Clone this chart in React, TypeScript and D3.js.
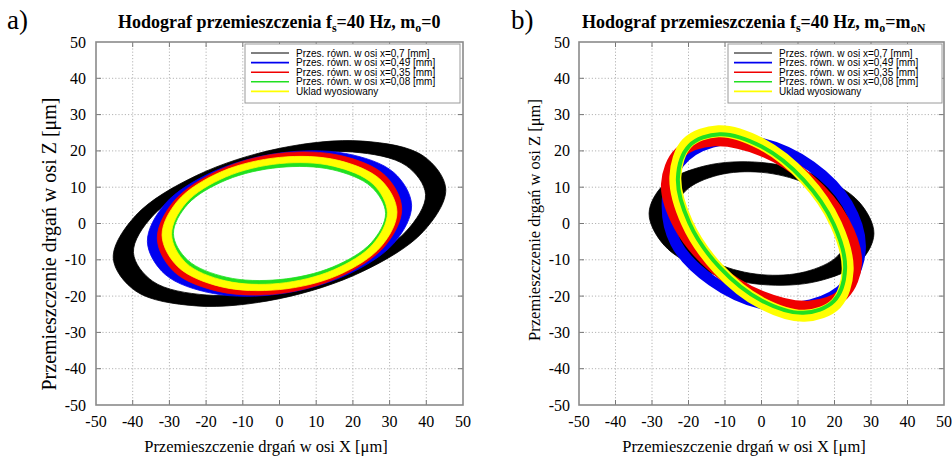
import React from "react";
import * as d3 from "d3";

type Pt = [number, number];

// ---------- data ----------
const tickValues = [-50, -40, -30, -20, -10, 0, 10, 20, 30, 40, 50];
const seriesLabels = [
  "Przes. równ. w osi x=0,7 [mm]",
  "Przes. równ. w osi x=0,49 [mm]",
  "Przes. równ. w osi x=0,35 [mm]",
  "Przes. równ. w osi x=0,08 [mm]",
  "Uklad wyosiowany",
];
const xAxisTitle = "Przemieszczenie drgań w osi X [μm]";
const yAxisTitle = "Przemieszczenie drgań w osi Z [μm]";

// panel a) loops (outer / inner boundary of each band), µm
const aBlackOuter: Pt[] = [[45.3, 9.5], [39.2, 18.6], [22.65, 22.7], [0, 20.7], [-22.65, 13.2], [-39.2, 2.2], [-45.3, -9.5], [-39.2, -18.6], [-22.65, -22.7], [0, -20.7], [22.65, -13.2], [39.2, -2.2]];
const aBlackInner: Pt[] = [[39.8, 8], [34.5, 15.95], [19.9, 19.7], [0, 18.1], [-19.9, 11.7], [-34.5, 2.15], [-39.8, -8], [-34.5, -15.95], [-19.9, -19.7], [0, -18.1], [19.9, -11.7], [34.5, -2.15]];
const aBlueOuter: Pt[] = [[36, 5], [31.2, 14], [18, 19.3], [0, 19.4], [-18, 14.3], [-31.2, 5.4], [-36, -5], [-31.2, -14], [-18, -19.3], [0, -19.4], [18, -14.3], [31.2, -5.4]];
const aBlueInner: Pt[] = [[31, 4.4], [26.85, 12.5], [15.5, 17.3], [0, 17.45], [-15.5, 12.9], [-26.85, 4.9], [-31, -4.4], [-26.85, -12.5], [-15.5, -17.3], [0, -17.45], [15.5, -12.9], [26.85, -4.9]];
const aRedOuter: Pt[] = [[33.3, 4.1], [28.8, 13.2], [16.65, 18.7], [0, 19.3], [-16.65, 14.6], [-28.8, 6.1], [-33.3, -4.1], [-28.8, -13.2], [-16.65, -18.7], [0, -19.3], [16.65, -14.6], [28.8, -6.1]];
const aRedInner: Pt[] = [[30.5, 3.6], [26.4, 11.4], [15.25, 16.2], [0, 16.6], [-15.25, 12.6], [-26.4, 5.2], [-30.5, -3.6], [-26.4, -11.4], [-15.25, -16.2], [0, -16.6], [15.25, -12.6], [26.4, -5.2]];
const aGreenOuter: Pt[] = [[29.8, 3], [25.8, 11], [14.9, 16.1], [0, 16.8], [-14.9, 13.1], [-25.8, 5.8], [-29.8, -3], [-25.8, -11], [-14.9, -16.1], [0, -16.8], [14.9, -13.1], [25.8, -5.8]];
const aGreenInner: Pt[] = [[28.9, 2.8], [25, 10.1], [14.45, 14.8], [0, 15.45], [-14.45, 12], [-25, 5.3], [-28.9, -2.8], [-25, -10.1], [-14.45, -14.8], [0, -15.45], [14.45, -12], [25, -5.3]];
const aYellowOuter: Pt[] = [[32, 3.2], [27.7, 11.9], [16, 17.4], [0, 18.2], [-16, 14.2], [-27.7, 6.3], [-32, -3.2], [-27.7, -11.9], [-16, -17.4], [0, -18.2], [16, -14.2], [27.7, -6.3]];
const aYellowInner: Pt[] = [[29.4, 3], [25.5, 10.85], [14.7, 15.8], [0, 16.5], [-14.7, 12.8], [-25.5, 5.65], [-29.4, -3], [-25.5, -10.85], [-14.7, -15.8], [0, -16.5], [14.7, -12.8], [25.5, -5.65]];

// panel b) loops
const bBlackOuter: Pt[] = [[30.8, -2.8], [26.7, 5.96], [15.4, 13.1], [0, 16.8], [-15.4, 15.9], [-26.7, 10.8], [-30.8, 2.8], [-26.7, -5.96], [-15.4, -13.1], [0, -16.8], [15.4, -15.9], [26.7, -10.8]];
const bBlackInner: Pt[] = [[24, -2.2], [20.8, 5.2], [12, 11.1], [0, 14.1], [-12, 13.3], [-20.8, 9], [-24, 2.2], [-20.8, -5.2], [-12, -11.1], [0, -14.1], [12, -13.3], [20.8, -9]];
const bBlueMid: Pt[] = [[27.1, -6.6], [23.5, 5.35], [13.55, 15.8], [0, 22.1], [-13.55, 22.4], [-22.5, 16.75], [-25.8, 6.6], [-23.5, -5.35], [-13.55, -15.8], [0, -22.1], [13.55, -22.4], [23.5, -16.75]];
const bRedMid: Pt[] = [[25.9, -10.8], [22.4, 0.75], [12.95, 12.1], [0, 20.2], [-12.95, 22.9], [-22.4, 19.45], [-25.9, 10.8], [-22.4, -0.75], [-12.95, -12.1], [0, -20.2], [12.95, -22.9], [22.4, -19.45]];
const bYellowMid: Pt[] = [[23.6, -12.9], [20.4, -0.2], [11.8, 12.5], [0, 21.9], [-11.8, 25.4], [-20.4, 22.1], [-23.6, 12.9], [-20.4, 0.2], [-11.8, -12.5], [0, -21.9], [11.8, -25.4], [20.4, -22.1]];
const bGreenMid: Pt[] = [[22.9, -12.5], [19.8, -0.2], [11.45, 12.1], [0, 21.2], [-11.45, 24.6], [-19.8, 21.4], [-22.9, 12.5], [-19.8, 0.2], [-11.45, -12.1], [0, -21.2], [11.45, -24.6], [19.8, -21.4]];

// ---------- styles ----------
const seriesColors = ["#000000", "#0000f0", "#f00000", "#20e020", "#ffff00"];
const midWidths = [0, 11, 12, 12, 4]; // px widths for single-line loops in b)

type Ring = { color: string; outer: Pt[]; inner?: Pt[]; width?: number };

const ringsA: Ring[] = [
  { color: seriesColors[0], outer: aBlackOuter, inner: aBlackInner },
  { color: seriesColors[1], outer: aBlueOuter, inner: aBlueInner },
  { color: seriesColors[2], outer: aRedOuter, inner: aRedInner },
  { color: seriesColors[3], outer: aGreenOuter, inner: aGreenInner },
  { color: seriesColors[4], outer: aYellowOuter, inner: aYellowInner },
];
const ringsB: Ring[] = [
  { color: seriesColors[0], outer: bBlackOuter, inner: bBlackInner },
  { color: seriesColors[1], outer: bBlueMid, width: midWidths[1] },
  { color: seriesColors[2], outer: bRedMid, width: midWidths[2] },
  { color: seriesColors[4], outer: bYellowMid, width: midWidths[3] },
  { color: seriesColors[3], outer: bGreenMid, width: midWidths[4] },
];

const SERIF = "'Liberation Serif', 'Times New Roman', serif";
const SANS = "'Liberation Sans', Arial, sans-serif";

type PanelProps = {
  left: number;
  right: number;
  top: number;
  bottom: number;
  rings: Ring[];
  letter: string;
  letterX: number;
  titleX: number;
  titleParts: { t: string; sub?: boolean }[];
  yLabelX: number;
  yLabelY: number;
  yLabelSize: number;
  yTickX: number;
  xTitleX: number;
  legendX: number;
  legendW: number;
};

function Panel(p: PanelProps) {
  const xs = d3.scaleLinear().domain([-50, 50]).range([p.left, p.right]);
  const ys = d3.scaleLinear().domain([-50, 50]).range([p.bottom, p.top]);
  const line = d3
    .line<Pt>()
    .x((d) => xs(d[0]))
    .y((d) => ys(d[1]))
    .curve(d3.curveCatmullRomClosed.alpha(0.5));
  const clipId = "clip" + p.letter;
  const legY = p.top + 2;
  return (
    <g>
      <defs>
        <clipPath id={clipId}>
          <rect x={p.left} y={p.top} width={p.right - p.left} height={p.bottom - p.top} />
        </clipPath>
      </defs>
      <rect x={p.left} y={p.top} width={p.right - p.left} height={p.bottom - p.top} fill="#fff" />
      {/* grid */}
      {tickValues.slice(1, -1).map((v) => (
        <g key={"g" + v}>
          <line x1={xs(v)} x2={xs(v)} y1={p.top} y2={p.bottom} stroke="#b4b4b4" strokeWidth={1} strokeDasharray="1.2,2" />
          <line x1={p.left} x2={p.right} y1={ys(v)} y2={ys(v)} stroke="#b4b4b4" strokeWidth={1} strokeDasharray="1.2,2" />
        </g>
      ))}
      {/* rings */}
      <g clipPath={`url(#${clipId})`}>
        {p.rings.map((r, i) =>
          r.inner ? (
            <path key={i} d={(line(r.outer) || "") + (line(r.inner) || "")} fill={r.color} fillRule="evenodd" stroke={r.color} strokeWidth={0.8} />
          ) : (
            <path key={i} d={line(r.outer) || ""} fill="none" stroke={r.color} strokeWidth={r.width} />
          )
        )}
      </g>
      {/* ticks */}
      {tickValues.slice(1, -1).map((v) => (
        <g key={"t" + v} stroke="#777" strokeWidth={1}>
          <line x1={xs(v)} x2={xs(v)} y1={p.top} y2={p.top + 5} />
          <line x1={xs(v)} x2={xs(v)} y1={p.bottom} y2={p.bottom - 5} />
          <line x1={p.left} x2={p.left + 5} y1={ys(v)} y2={ys(v)} />
          <line x1={p.right} x2={p.right - 5} y1={ys(v)} y2={ys(v)} />
        </g>
      ))}
      {/* frame */}
      <rect x={p.left} y={p.top} width={p.right - p.left} height={p.bottom - p.top} fill="none" stroke="#8a8a8a" strokeWidth={1.6} />
      {/* tick labels */}
      {tickValues.map((v) => (
        <text key={"xl" + v} x={xs(v)} y={p.bottom + 22} fontFamily={SERIF} fontSize={16} textAnchor="middle">
          {v}
        </text>
      ))}
      {tickValues.map((v) => (
        <text key={"yl" + v} x={p.yTickX} y={ys(v) + 5.5} fontFamily={SERIF} fontSize={16} textAnchor="end">
          {v}
        </text>
      ))}
      {/* axis titles */}
      <text x={p.xTitleX} y={p.bottom + 47} fontFamily={SERIF} fontSize={16.5} textAnchor="middle">
        {xAxisTitle}
      </text>
      <text transform={`translate(${p.yLabelX},${p.yLabelY}) rotate(-90)`} fontFamily={SERIF} fontSize={p.yLabelSize} textAnchor="middle">
        {yAxisTitle}
      </text>
      {/* title */}
      <text x={p.titleX} y={28} fontFamily={SERIF} fontSize={18} fontWeight="bold">
        {p.titleParts.map((part, i) =>
          part.sub ? (
            <tspan key={i} fontSize={12} dy={4}>
              {part.t}
            </tspan>
          ) : (
            <tspan key={i} dy={i > 0 && p.titleParts[i - 1].sub ? -4 : 0}>
              {part.t}
            </tspan>
          )
        )}
      </text>
      <text x={p.letterX} y={29} fontFamily={SERIF} fontSize={27}>
        {p.letter + ")"}
      </text>
      {/* legend */}
      <rect x={p.legendX} y={legY} width={p.legendW} height={59} fill="#fff" stroke="#9a9a9a" strokeWidth={1} />
      {seriesLabels.map((s, i) => (
        <g key={"lg" + i}>
          <line x1={p.legendX + 6} x2={p.legendX + 44} y1={legY + 9 + i * 9.6} y2={legY + 9 + i * 9.6} stroke={seriesColors[i]} strokeWidth={i === 0 ? 1 : 1.6} />
          <text x={p.legendX + 51} y={legY + 12.5 + i * 9.6} fontFamily={SANS} fontSize={10}>
            {s}
          </text>
        </g>
      ))}
    </g>
  );
}

export default function App() {
  return (
    <svg width={952} height={457} style={{ position: "absolute", left: 0, top: 0, background: "#fff" }}>
      <rect width={952} height={457} fill="#fff" />
      <Panel
        left={96}
        right={463}
        top={42}
        bottom={405}
        rings={ringsA}
        letter="a"
        letterX={7}
        titleX={118}
        titleParts={[{ t: "Hodograf przemieszczenia f" }, { t: "s", sub: true }, { t: "=40 Hz, m" }, { t: "o", sub: true }, { t: "=0" }]}
        yLabelX={56}
        yLabelY={244}
        yLabelSize={20}
        yTickX={86}
        xTitleX={266}
        legendX={245}
        legendW={215}
      />
      <Panel
        left={579}
        right={944}
        top={42}
        bottom={405}
        rings={ringsB}
        letter="b"
        letterX={511}
        titleX={582}
        titleParts={[{ t: "Hodograf przemieszczenia f" }, { t: "s", sub: true }, { t: "=40 Hz, m" }, { t: "o", sub: true }, { t: "=m" }, { t: "oN", sub: true }]}
        yLabelX={540}
        yLabelY={220}
        yLabelSize={16.5}
        yTickX={570}
        xTitleX={744}
        legendX={728}
        legendW={214}
      />
    </svg>
  );
}
